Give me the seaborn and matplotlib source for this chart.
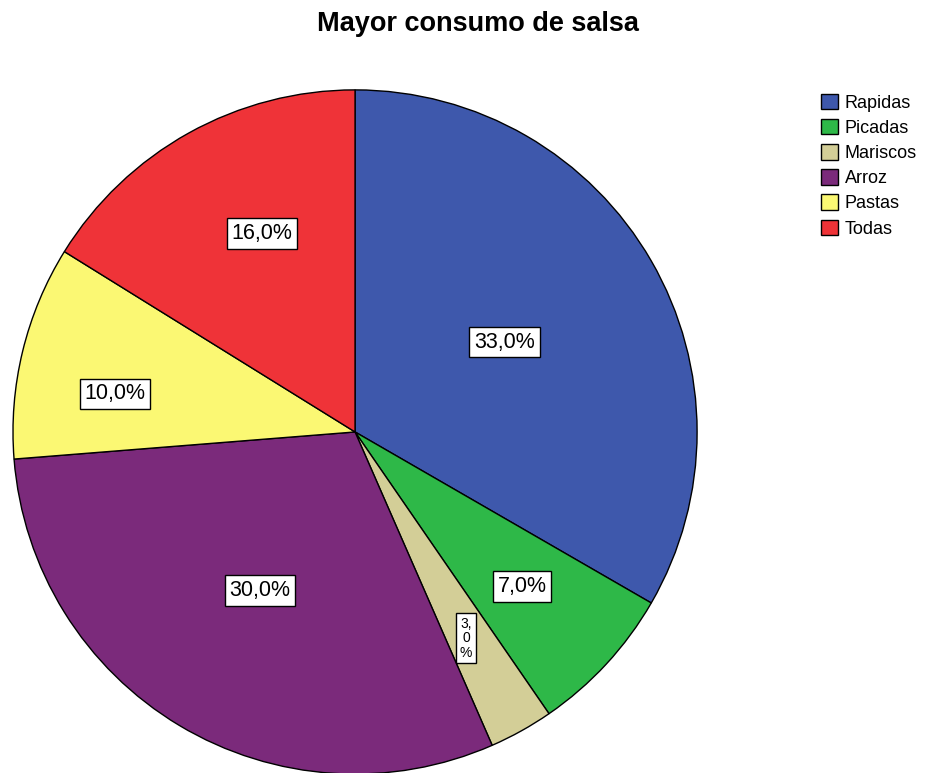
import matplotlib
matplotlib.use("Agg")
import matplotlib.pyplot as plt
import seaborn as sns
import numpy as np
from matplotlib.patches import Patch

categories = ["Rapidas", "Picadas", "Mariscos", "Arroz", "Pastas", "Todas"]
percentages = [33.0, 7.0, 3.0, 30.0, 10.0, 16.0]
labels = ["33,0%", "7,0%", "3,\n0\n%", "30,0%", "10,0%", "16,0%"]
colors = ["#3e58ac", "#2eb848", "#d3ce97", "#7b2a7b", "#fbf873", "#ef3338"]

sns.set_theme(style="white")
plt.rcParams["font.family"] = ["Liberation Sans", "DejaVu Sans"]
plt.rcParams["text.color"] = "black"

fig = plt.figure(figsize=(9.27, 7.73), dpi=100)
ax = fig.add_axes([0.014, -0.0013, 0.738, 0.885])

wedges, _ = ax.pie(percentages, colors=sns.color_palette(colors), startangle=90,
                   counterclock=False, radius=1,
                   wedgeprops=dict(edgecolor="black", linewidth=1.0))
ax.set_xlim(-1, 1)
ax.set_ylim(-1, 1)
ax.set_aspect("equal")
ax.axis("off")

# placement of each value label: radius and angular nudge from the wedge centre
label_r = [0.51, 0.665, 0.685, 0.54, 0.71, 0.64]
label_dang = [1.0, 0.0, -0.8, 0.0, 4.6, -4.0]
for w, txt, r, da in zip(wedges, labels, label_r, label_dang):
    ang = np.deg2rad((w.theta1 + w.theta2) / 2 + da)
    small = "\n" in txt
    ax.text(r * np.cos(ang), r * np.sin(ang), txt, ha="center", va="center",
            fontsize=10 if small else 15.5, linespacing=1.05, color="black",
            bbox=dict(boxstyle="square,pad=0.25" if small else "square,pad=0.22",
                      facecolor="white", edgecolor="black", linewidth=1.0))

fig.text(0.516, 0.969, "Mayor consumo de salsa", ha="center", va="center",
         fontsize=19.5, fontweight="bold", color="black")

handles = [Patch(facecolor=c, edgecolor="black", linewidth=1.0) for c in colors]
fig.legend(handles, categories, loc="upper left", bbox_to_anchor=(0.886, 0.879),
           frameon=False, fontsize=13, handlelength=0.95, handleheight=0.95,
           handletextpad=0.35, labelspacing=0.4, borderpad=0, borderaxespad=0)

fig.savefig("out.png", dpi=100)
